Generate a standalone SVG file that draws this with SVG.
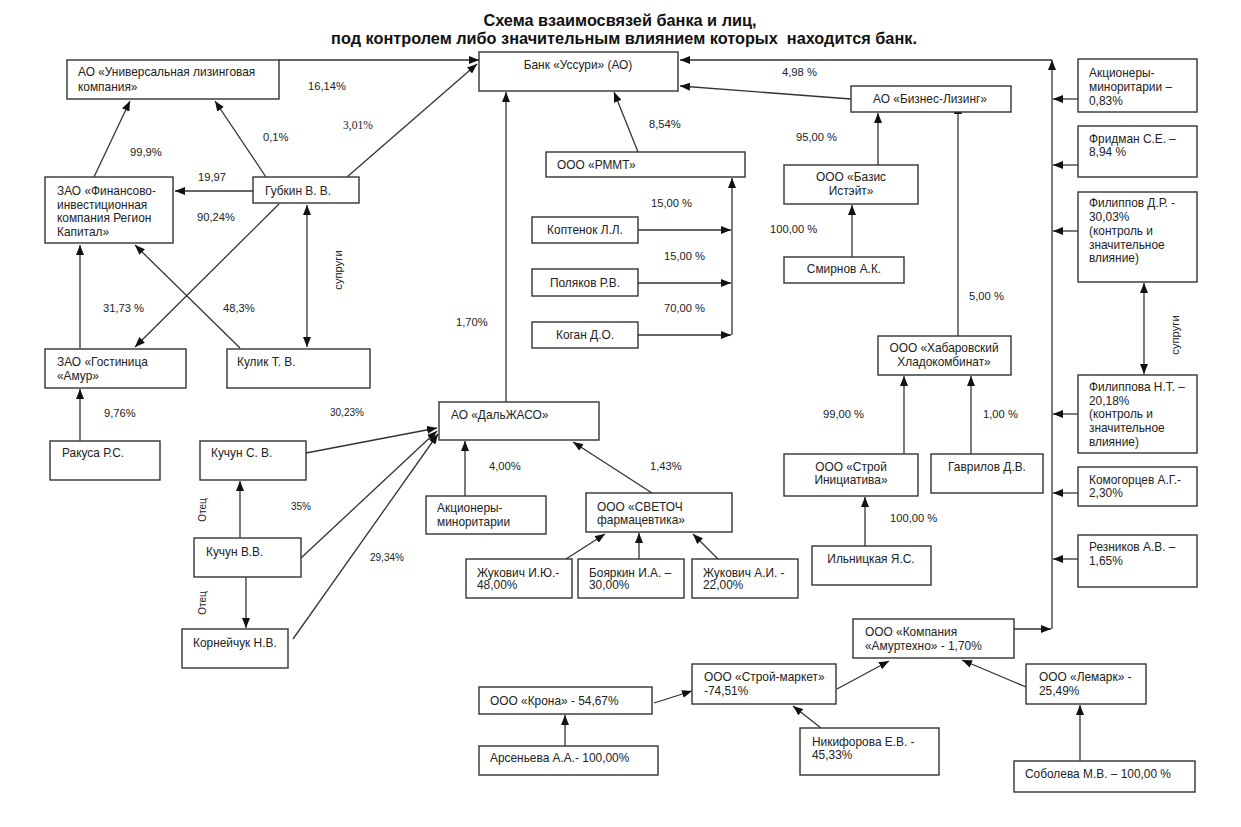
<svg xmlns="http://www.w3.org/2000/svg" width="1241" height="827" viewBox="0 0 1241 827">
<style>
text{font-family:"Liberation Sans",Arial,sans-serif;font-size:11px;fill:#222}
g[id] > text{font-size:11.9px}
#labels text{font-size:11.2px}
.title{font-size:16.3px;font-weight:bold;fill:#111}
.c{text-anchor:middle}
#labels .sm{font-size:10px}
#labels .serif{font-family:"Liberation Serif","Times New Roman",serif;font-size:11.5px}
.b{fill:#fff;stroke:#333;stroke-width:1.4}
.l{fill:none;stroke:#333;stroke-width:1.3;marker-end:url(#a)}
.d{fill:none;stroke:#333;stroke-width:1.3;marker-end:url(#a);marker-start:url(#a)}
</style>
<defs>
<marker id="a" markerUnits="userSpaceOnUse" markerWidth="10" markerHeight="8" refX="10" refY="4" orient="auto-start-reverse" viewBox="0 0 10 8"><path d="M0,0 L10,4 L0,8 z" fill="#111"/></marker>
</defs>
<rect width="1241" height="827" fill="#fff"/>
<text class="title c" x="620" y="26">Схема взаимосвязей банка и лиц,</text>
<text class="title c" x="624" y="44" xml:space="preserve">под контролем либо значительным влиянием которых  находится банк.</text>

<g id="connectors">
<polyline class="l" points="279,60 479,60"/>
<line class="l" x1="347" y1="177" x2="477" y2="64"/>
<line class="l" x1="266" y1="177" x2="215" y2="101"/>
<line class="l" x1="94" y1="177" x2="130" y2="101"/>
<line class="l" x1="253" y1="191" x2="175" y2="191"/>
<line class="l" x1="279" y1="204" x2="135" y2="347"/>
<line class="l" x1="240" y1="348" x2="135" y2="245"/>
<line class="d" x1="307" y1="205" x2="307" y2="347"/>
<line class="l" x1="80" y1="348" x2="80" y2="245"/>
<line class="l" x1="80" y1="441" x2="80" y2="389"/>
<line class="l" x1="240" y1="538" x2="240" y2="481"/>
<line class="l" x1="246" y1="577" x2="246" y2="628"/>
<line class="l" x1="306" y1="453" x2="437" y2="428"/>
<line class="l" x1="301" y1="558" x2="437" y2="431"/>
<line class="l" x1="293" y1="639" x2="438" y2="434"/>
<line class="l" x1="506" y1="402" x2="506" y2="92"/>
<line class="l" x1="465" y1="496" x2="465" y2="441"/>
<line class="l" x1="652" y1="493" x2="573" y2="442"/>
<line class="l" x1="566" y1="559" x2="605" y2="534"/>
<line class="l" x1="639" y1="559" x2="639" y2="533"/>
<line class="l" x1="718" y1="559" x2="693" y2="534"/>
<line class="l" x1="638" y1="152" x2="614" y2="92"/>
<line class="l" x1="732" y1="335" x2="732" y2="178"/>
<line class="l" x1="638" y1="230" x2="731" y2="230"/>
<line class="l" x1="638" y1="283" x2="731" y2="283"/>
<line class="l" x1="638" y1="335" x2="731" y2="335"/>
<line class="l" x1="851" y1="99" x2="680" y2="86"/>
<line class="l" x1="1052" y1="60" x2="680" y2="60"/>
<line class="l" x1="1052" y1="629" x2="1052" y2="60"/>
<line class="l" x1="878" y1="165" x2="878" y2="113"/>
<line class="l" x1="852" y1="257" x2="852" y2="205"/>
<line class="l" x1="958" y1="336" x2="958" y2="104"/>
<line class="l" x1="904" y1="454" x2="904" y2="376"/>
<line class="l" x1="971" y1="454" x2="971" y2="376"/>
<line class="l" x1="865" y1="546" x2="865" y2="497"/>
<line class="l" x1="1078" y1="99" x2="1053" y2="99"/>
<line class="l" x1="1078" y1="165" x2="1053" y2="165"/>
<line class="l" x1="1078" y1="231" x2="1053" y2="231"/>
<line class="d" x1="1144" y1="283" x2="1144" y2="374"/>
<line class="l" x1="1078" y1="414" x2="1053" y2="414"/>
<line class="l" x1="1078" y1="493" x2="1053" y2="493"/>
<line class="l" x1="1078" y1="559" x2="1053" y2="559"/>
<line class="l" x1="1014" y1="629" x2="1051" y2="629"/>
<line class="l" x1="654" y1="703" x2="692" y2="691"/>
<line class="l" x1="565" y1="746" x2="565" y2="715"/>
<line class="l" x1="837" y1="689" x2="889" y2="661"/>
<line class="l" x1="821" y1="728" x2="793" y2="706"/>
<line class="l" x1="1026" y1="687" x2="962" y2="660"/>
<line class="l" x1="1080" y1="761" x2="1080" y2="705"/>
</g>

<g id="labels">
<text x="308" y="90">16,14%</text>
<text class="serif" x="343" y="129">3,01%</text>
<text x="263" y="141">0,1%</text>
<text x="130" y="156">99,9%</text>
<text x="198" y="181">19,97</text>
<text x="197" y="221">90,24%</text>
<text x="103" y="312">31,73 %</text>
<text x="223" y="312">48,3%</text>
<text transform="translate(342,270) rotate(-90)" class="c">супруги</text>
<text x="104" y="417">9,76%</text>
<text class="sm" x="330" y="416">30,23%</text>
<text class="sm" x="291" y="510">35%</text>
<text class="sm" x="370" y="561">29,34%</text>
<text class="sm c" transform="translate(206,510) rotate(-90)">Отец</text>
<text class="sm c" transform="translate(206,603) rotate(-90)">Отец</text>
<text x="456" y="326">1,70%</text>
<text x="489" y="470">4,00%</text>
<text x="650" y="470">1,43%</text>
<text x="649" y="128">8,54%</text>
<text x="651" y="207">15,00 %</text>
<text x="664" y="260">15,00 %</text>
<text x="664" y="312">70,00 %</text>
<text x="782" y="76">4,98 %</text>
<text x="796" y="141">95,00 %</text>
<text x="770" y="233">100,00 %</text>
<text x="969" y="300">5,00 %</text>
<text x="823" y="418">99,00 %</text>
<text x="983" y="418">1,00 %</text>
<text x="890" y="522">100,00 %</text>
<text transform="translate(1179,335) rotate(-90)" class="c">супруги</text>
</g>

<g id="ulk"><rect class="b" x="67" y="60" width="212" height="39"/><text x="78" y="76">АО «Универсальная лизинговая</text><text x="78" y="91">компания»</text></g>
<g id="bank"><rect class="b" x="479" y="52" width="199" height="39"/><text class="c" x="578" y="69">Банк «Уссури» (АО)</text></g>
<g id="rmmt"><rect class="b" x="546" y="152" width="199" height="25"/><text x="557" y="169">ООО «РММТ»</text></g>
<g id="gubkin"><rect class="b" x="253" y="177" width="106" height="26"/><text x="265" y="195">Губкин В. В.</text></g>
<g id="region"><rect class="b" x="45" y="177" width="128" height="66"/><text x="57" y="195">ЗАО «Финансово-</text><text x="57" y="209">инвестиционная</text><text x="57" y="222">компания Регион</text><text x="57" y="236">Капитал»</text></g>
<g id="amur"><rect class="b" x="45" y="349" width="141" height="39"/><text x="57" y="366">ЗАО «Гостиница</text><text x="57" y="380">«Амур»</text></g>
<g id="kulik"><rect class="b" x="227" y="349" width="143" height="39"/><text x="237" y="366">Кулик Т. В.</text></g>
<g id="rakusa"><rect class="b" x="50" y="441" width="110" height="39"/><text x="62" y="457">Ракуса Р.С.</text></g>
<g id="kuchun-s"><rect class="b" x="200" y="441" width="106" height="39"/><text x="211" y="457">Кучун С. В.</text></g>
<g id="kuchun-v"><rect class="b" x="194" y="538" width="107" height="39"/><text x="206" y="556">Кучун В.В.</text></g>
<g id="korneychuk"><rect class="b" x="182" y="629" width="106" height="39"/><text x="193" y="647">Корнейчук Н.В.</text></g>
<g id="dalzhaso"><rect class="b" x="439" y="402" width="160" height="38"/><text x="451" y="419">АО «ДальЖАСО»</text></g>
<g id="minor1"><rect class="b" x="426" y="496" width="120" height="38"/><text x="437" y="512">Акционеры-</text><text x="437" y="526">миноритарии</text></g>
<g id="svetoch"><rect class="b" x="586" y="493" width="146" height="39"/><text x="597" y="511">ООО «СВЕТОЧ</text><text x="597" y="524">фармацевтика»</text></g>
<g id="zhuk-iu"><rect class="b" x="466" y="559" width="106" height="39"/><text x="477" y="577">Жукович И.Ю.-</text><text x="477" y="589">48,00%</text></g>
<g id="boyarkin"><rect class="b" x="578" y="559" width="106" height="39"/><text x="589" y="577">Бояркин И.А. –</text><text x="589" y="589">30,00%</text></g>
<g id="zhuk-ai"><rect class="b" x="692" y="559" width="106" height="39"/><text x="703" y="577">Жукович А.И. -</text><text x="703" y="589">22,00%</text></g>
<g id="koptenok"><rect class="b" x="532" y="217" width="106" height="26"/><text class="c" x="585" y="234">Коптенок Л.Л.</text></g>
<g id="polyakov"><rect class="b" x="532" y="269" width="106" height="27"/><text class="c" x="585" y="287">Поляков Р.В.</text></g>
<g id="kogan"><rect class="b" x="532" y="322" width="106" height="26"/><text class="c" x="585" y="339">Коган Д.О.</text></g>
<g id="biznes"><rect class="b" x="851" y="86" width="160" height="26"/><text class="c" x="930" y="103">АО «Бизнес-Лизинг»</text></g>
<g id="bazis"><rect class="b" x="784" y="165" width="134" height="39"/><text class="c" x="851" y="181">ООО «Базис</text><text class="c" x="851" y="195">Истэйт»</text></g>
<g id="smirnov"><rect class="b" x="784" y="257" width="120" height="26"/><text class="c" x="844" y="273">Смирнов А.К.</text></g>
<g id="khlado"><rect class="b" x="878" y="336" width="133" height="39"/><text class="c" x="944" y="352">ООО «Хабаровский</text><text class="c" x="944" y="366">Хладокомбинат»</text></g>
<g id="stroy-in"><rect class="b" x="784" y="454" width="134" height="42"/><text class="c" x="851" y="471">ООО «Строй</text><text class="c" x="851" y="484">Инициатива»</text></g>
<g id="gavrilov"><rect class="b" x="931" y="454" width="112" height="39"/><text class="c" x="987" y="471">Гаврилов Д.В.</text></g>
<g id="ilnitskaya"><rect class="b" x="812" y="546" width="119" height="39"/><text class="c" x="871" y="563">Ильницкая Я.С.</text></g>
<g id="minor2"><rect class="b" x="1078" y="59" width="119" height="53"/><text x="1089" y="77">Акционеры-</text><text x="1089" y="91">миноритарии –</text><text x="1089" y="105">0,83%</text></g>
<g id="fridman"><rect class="b" x="1078" y="126" width="119" height="51"/><text x="1089" y="143">Фридман С.Е. –</text><text x="1089" y="156">8,94 %</text></g>
<g id="filippov"><rect class="b" x="1078" y="192" width="119" height="90"/><text x="1089" y="207">Филиппов Д.Р. -</text><text x="1089" y="221">30,03%</text><text x="1089" y="235">(контроль и</text><text x="1089" y="249">значительное</text><text x="1089" y="262">влияние)</text></g>
<g id="filippova"><rect class="b" x="1078" y="375" width="119" height="78"/><text x="1089" y="391">Филиппова Н.Т. –</text><text x="1089" y="405">20,18%</text><text x="1089" y="418">(контроль и</text><text x="1089" y="432">значительное</text><text x="1089" y="446">влияние)</text></g>
<g id="komogortsev"><rect class="b" x="1078" y="467" width="119" height="39"/><text x="1089" y="484">Комогорцев А.Г.-</text><text x="1089" y="497">2,30%</text></g>
<g id="reznikov"><rect class="b" x="1078" y="535" width="119" height="52"/><text x="1089" y="551">Резников А.В. –</text><text x="1089" y="565">1,65%</text></g>
<g id="amurtekhno"><rect class="b" x="853" y="619" width="161" height="39"/><text x="865" y="636">ООО «Компания</text><text x="865" y="650">«Амуртехно» - 1,70%</text></g>
<g id="stroy-market"><rect class="b" x="692" y="664" width="144" height="40"/><text x="704" y="681">ООО «Строй-маркет»</text><text x="704" y="695">-74,51%</text></g>
<g id="krona"><rect class="b" x="479" y="687" width="173" height="27"/><text x="490" y="705">ООО «Крона» - 54,67%</text></g>
<g id="arsenieva"><rect class="b" x="479" y="746" width="179" height="29"/><text x="490" y="762">Арсеньева А.А.- 100,00%</text></g>
<g id="nikiforova"><rect class="b" x="800" y="728" width="139" height="47"/><text x="812" y="746">Никифорова Е.В. -</text><text x="812" y="759">45,33%</text></g>
<g id="lemark"><rect class="b" x="1026" y="664" width="120" height="40"/><text x="1039" y="681">ООО «Лемарк» -</text><text x="1039" y="695">25,49%</text></g>
<g id="soboleva"><rect class="b" x="1014" y="761" width="181" height="31"/><text x="1025" y="778">Соболева М.В. – 100,00 %</text></g>
</svg>
